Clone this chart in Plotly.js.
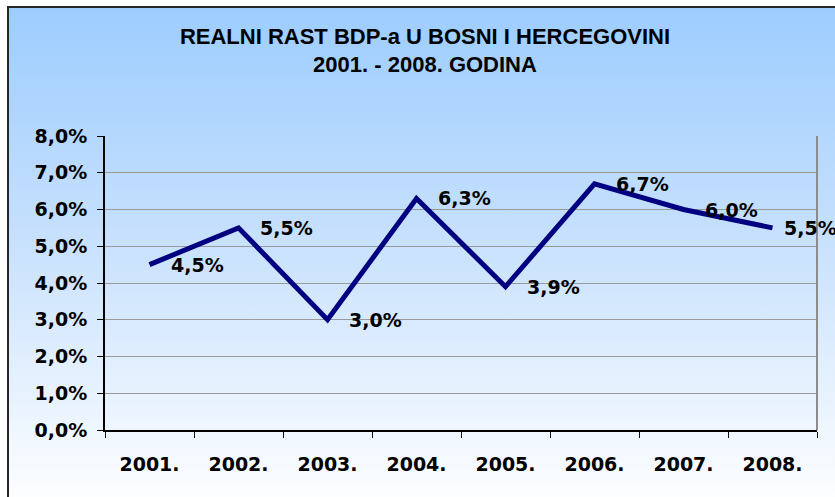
<!DOCTYPE html>
<html>
<head>
<meta charset="utf-8">
<script src="https://cdn.plot.ly/plotly-3.0.1.min.js"></script>
<style>
  html, body { margin: 0; padding: 0; background: #ffffff; }
  #wrap { position: relative; width: 835px; height: 497px; overflow: hidden; background: #ffffff; }
  #frame { position: absolute; left: 7px; top: 6px; width: 840px; height: 500px;
           border-left: 2px solid #262626; border-top: 2px solid #262626;
           background: linear-gradient(to bottom, #9dcdff 0%, #c6e0fd 45%, #ffffff 100%); }
  #chart { position: absolute; left: 0; top: 0; width: 835px; height: 497px; }
</style>
</head>
<body>
<div id="wrap">
  <div id="frame"></div>
  <div id="chart"></div>
</div>
<script>
const years = ["2001.", "2002.", "2003.", "2004.", "2005.", "2006.", "2007.", "2008."];
const growth = [4.5, 5.5, 3.0, 6.3, 3.9, 6.7, 6.0, 5.5];
const yTicks = [0, 1, 2, 3, 4, 5, 6, 7, 8];

const fmt = v => v.toFixed(1).replace('.', ',') + '%';
const labelFont = { family: "DejaVu Sans", size: 19, color: "#000000", weight: 700 };

const xIdx = years.map((_, i) => i);
const labels = growth.map(fmt);
const yTickText = yTicks.map(fmt);

const trace = {
  type: 'scatter',
  mode: 'lines',
  x: xIdx,
  y: growth,
  line: { color: '#000080', width: 5 },
  hoverinfo: 'skip',
  showlegend: false
};

const annotations = xIdx.map((xi, i) => ({
  x: xi, y: growth[i], xref: 'x', yref: 'y',
  text: labels[i], showarrow: false,
  xanchor: 'left', yanchor: 'middle',
  xshift: (i === xIdx.length - 1) ? 9 : 19,
  font: labelFont
}));

const layout = {
  width: 835, height: 497,
  margin: { l: 105, r: 18, t: 136, b: 67 },
  paper_bgcolor: 'rgba(0,0,0,0)',
  plot_bgcolor: 'rgba(0,0,0,0)',
  title: {
    text: 'REALNI RAST BDP-a U BOSNI I HERCEGOVINI<br>2001. - 2008. GODINA',
    font: { family: 'Liberation Sans', size: 22, color: '#000000', weight: 700 },
    x: 0.509, xref: 'container', xanchor: 'center',
    y: 0.912, yref: 'container', yanchor: 'top'
  },
  xaxis: {
    type: 'linear',
    range: [-0.5, years.length - 0.5],
    tickmode: 'array', tickvals: xIdx, ticktext: years,
    ticks: '',
    minor: { ticks: 'outside', ticklen: 6, tickcolor: '#000000', tickwidth: 1,
             tick0: -0.5, dtick: 1, showgrid: false },
    showline: true, linecolor: '#000000', linewidth: 2,
    showgrid: false, zeroline: false,
    tickfont: labelFont,
    tickangle: 0,
    ticklabelstandoff: 16,
    fixedrange: true
  },
  yaxis: {
    range: [0, 8],
    tickmode: 'array', tickvals: yTicks, ticktext: yTickText,
    ticks: 'outside', ticklen: 6, tickcolor: '#000000', tickwidth: 1,
    showline: true, linecolor: '#000000', linewidth: 2,
    showgrid: true, gridcolor: '#9a9a9a', gridwidth: 1,
    zeroline: false,
    tickfont: labelFont,
    ticklabelstandoff: 6,
    fixedrange: true
  },
  shapes: [{
    type: 'line', xref: 'paper', yref: 'paper',
    x0: 1, x1: 1, y0: 0, y1: 1,
    line: { color: '#8c8c8c', width: 2 }
  }],
  annotations: annotations
};

Plotly.newPlot('chart', [trace], layout, { displayModeBar: false, staticPlot: true });
</script>
</body>
</html>
